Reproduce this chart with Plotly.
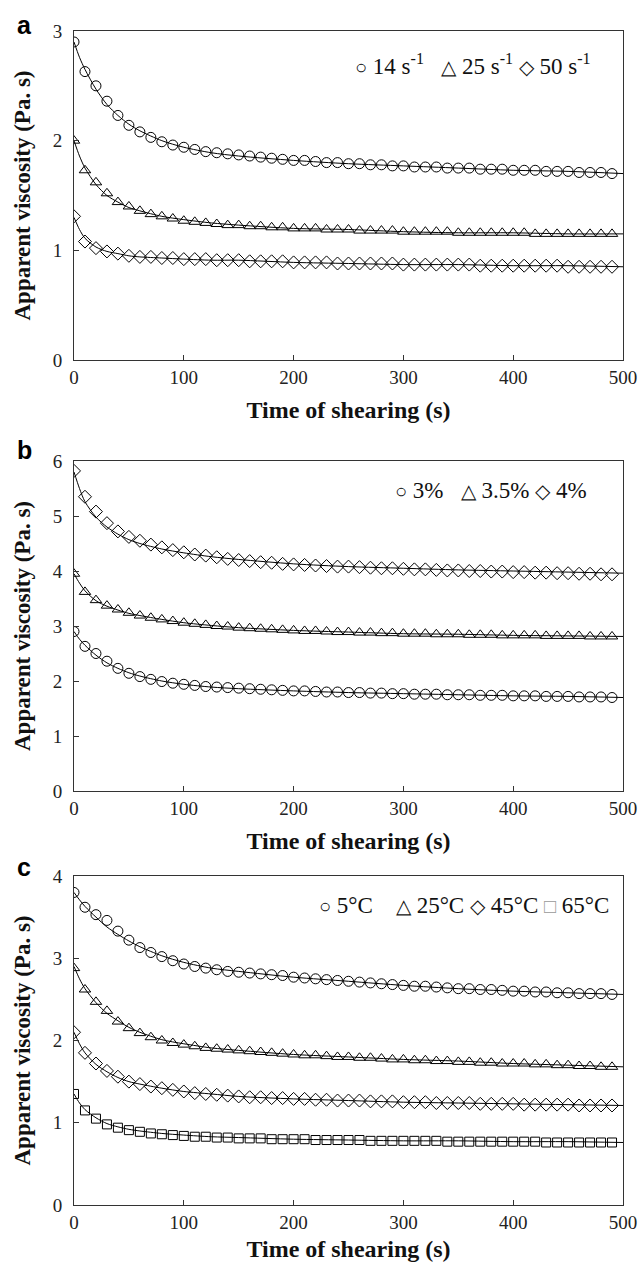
import plotly.graph_objects as go

# ---------------- data ----------------
T_MARK = [0, 10, 20, 30, 40, 50, 60, 70, 80, 90,
          100, 110, 120, 130, 140, 150, 160, 170, 180, 190,
          200, 210, 220, 230, 240, 250, 260, 270, 280, 290,
          300, 310, 320, 330, 340, 350, 360, 370, 380, 390,
          400, 410, 420, 430, 440, 450, 460, 470, 480, 490]
T_FIT = [0, 5, 10, 20, 30, 40, 50, 60, 80, 100, 125, 150, 200, 250, 300, 350, 400, 450, 500]

# panel a: shear rates
A_14 = [2.90, 2.63, 2.50, 2.36, 2.23, 2.14, 2.08, 2.03, 1.99, 1.96,
        1.94, 1.92, 1.90, 1.89, 1.88, 1.87, 1.86, 1.85, 1.84, 1.83,
        1.82, 1.82, 1.81, 1.80, 1.80, 1.79, 1.79, 1.78, 1.78, 1.77,
        1.77, 1.76, 1.76, 1.76, 1.75, 1.75, 1.75, 1.74, 1.74, 1.74,
        1.73, 1.73, 1.73, 1.72, 1.72, 1.72, 1.71, 1.71, 1.71, 1.70]
A_14_FIT = [2.90, 2.76, 2.65, 2.47, 2.33, 2.23, 2.15, 2.09, 2.00, 1.94, 1.89, 1.86, 1.82, 1.79, 1.77, 1.75, 1.73, 1.72, 1.70]
A_25 = [2.00, 1.73, 1.62, 1.52, 1.44, 1.40, 1.36, 1.33, 1.31, 1.29,
        1.27, 1.26, 1.25, 1.24, 1.23, 1.23, 1.22, 1.22, 1.21, 1.21,
        1.20, 1.20, 1.20, 1.19, 1.19, 1.19, 1.18, 1.18, 1.18, 1.18,
        1.17, 1.17, 1.17, 1.17, 1.17, 1.16, 1.16, 1.16, 1.16, 1.16,
        1.16, 1.16, 1.15, 1.15, 1.15, 1.15, 1.15, 1.15, 1.15, 1.15]
A_25_FIT = [2.00, 1.86, 1.75, 1.60, 1.50, 1.44, 1.39, 1.36, 1.31, 1.28, 1.25, 1.23, 1.20, 1.19, 1.17, 1.16, 1.16, 1.15, 1.15]
A_50 = [1.31, 1.08, 1.02, 0.99, 0.97, 0.95, 0.94, 0.94, 0.93, 0.93,
        0.92, 0.92, 0.92, 0.91, 0.91, 0.91, 0.90, 0.90, 0.90, 0.90,
        0.89, 0.89, 0.89, 0.89, 0.88, 0.88, 0.88, 0.88, 0.88, 0.88,
        0.87, 0.87, 0.87, 0.87, 0.87, 0.87, 0.87, 0.86, 0.86, 0.86,
        0.86, 0.86, 0.86, 0.86, 0.86, 0.85, 0.85, 0.85, 0.85, 0.85]
A_50_FIT = [1.30, 1.19, 1.11, 1.03, 0.99, 0.97, 0.95, 0.94, 0.93, 0.92, 0.91, 0.91, 0.89, 0.88, 0.87, 0.87, 0.86, 0.86, 0.85]

# panel b: concentrations
B_3 = [2.90, 2.63, 2.50, 2.36, 2.23, 2.14, 2.08, 2.03, 1.99, 1.96,
       1.94, 1.92, 1.90, 1.89, 1.88, 1.87, 1.86, 1.85, 1.84, 1.83,
       1.82, 1.82, 1.81, 1.80, 1.80, 1.79, 1.79, 1.78, 1.78, 1.77,
       1.77, 1.76, 1.76, 1.76, 1.75, 1.75, 1.75, 1.74, 1.74, 1.74,
       1.73, 1.73, 1.73, 1.72, 1.72, 1.72, 1.71, 1.71, 1.71, 1.70]
B_3_FIT = [2.90, 2.76, 2.65, 2.47, 2.33, 2.23, 2.15, 2.09, 2.00, 1.94, 1.89, 1.86, 1.82, 1.79, 1.77, 1.75, 1.73, 1.72, 1.70]
B_35 = [3.95, 3.62, 3.47, 3.37, 3.30, 3.24, 3.19, 3.15, 3.12, 3.09,
        3.06, 3.04, 3.02, 3.00, 2.99, 2.97, 2.96, 2.95, 2.94, 2.93,
        2.92, 2.91, 2.91, 2.90, 2.89, 2.89, 2.88, 2.88, 2.87, 2.87,
        2.86, 2.86, 2.86, 2.85, 2.85, 2.85, 2.84, 2.84, 2.84, 2.83,
        2.83, 2.83, 2.83, 2.82, 2.82, 2.82, 2.82, 2.81, 2.81, 2.81]
B_35_FIT = [3.95, 3.78, 3.64, 3.46, 3.36, 3.29, 3.23, 3.19, 3.12, 3.06, 3.01, 2.97, 2.92, 2.89, 2.86, 2.85, 2.83, 2.82, 2.81]
B_4 = [5.82, 5.35, 5.08, 4.87, 4.72, 4.62, 4.55, 4.48, 4.43, 4.38,
       4.34, 4.30, 4.28, 4.25, 4.22, 4.20, 4.18, 4.16, 4.15, 4.13,
       4.12, 4.11, 4.10, 4.09, 4.08, 4.08, 4.07, 4.06, 4.05, 4.05,
       4.04, 4.03, 4.03, 4.02, 4.01, 4.01, 4.00, 4.00, 3.99, 3.99,
       3.98, 3.98, 3.97, 3.97, 3.96, 3.96, 3.95, 3.95, 3.94, 3.94]
B_4_FIT = [5.80, 5.50, 5.26, 4.98, 4.80, 4.67, 4.57, 4.50, 4.40, 4.33, 4.26, 4.21, 4.13, 4.08, 4.05, 4.02, 4.00, 3.98, 3.96]

# panel c: temperatures
C_5 = [3.80, 3.62, 3.53, 3.46, 3.33, 3.22, 3.13, 3.07, 3.02, 2.97,
       2.93, 2.90, 2.88, 2.86, 2.84, 2.83, 2.82, 2.81, 2.80, 2.79,
       2.77, 2.76, 2.75, 2.74, 2.73, 2.72, 2.71, 2.70, 2.69, 2.68,
       2.67, 2.66, 2.66, 2.65, 2.64, 2.63, 2.63, 2.62, 2.62, 2.61,
       2.60, 2.60, 2.59, 2.59, 2.58, 2.58, 2.57, 2.57, 2.57, 2.56]
C_5_FIT = [3.80, 3.71, 3.63, 3.50, 3.38, 3.29, 3.21, 3.14, 3.03, 2.95, 2.88, 2.84, 2.77, 2.72, 2.67, 2.63, 2.60, 2.58, 2.56]
C_25 = [2.88, 2.62, 2.47, 2.36, 2.23, 2.15, 2.09, 2.04, 2.00, 1.97,
        1.95, 1.93, 1.91, 1.90, 1.89, 1.88, 1.87, 1.86, 1.85, 1.84,
        1.83, 1.82, 1.82, 1.81, 1.80, 1.80, 1.79, 1.79, 1.78, 1.77,
        1.77, 1.76, 1.76, 1.75, 1.75, 1.74, 1.74, 1.73, 1.73, 1.72,
        1.72, 1.72, 1.71, 1.71, 1.70, 1.70, 1.69, 1.69, 1.68, 1.68]
C_25_FIT = [2.90, 2.75, 2.63, 2.46, 2.33, 2.24, 2.16, 2.10, 2.01, 1.96, 1.91, 1.88, 1.83, 1.80, 1.77, 1.75, 1.72, 1.70, 1.68]
C_45 = [2.10, 1.85, 1.72, 1.63, 1.56, 1.50, 1.47, 1.44, 1.42, 1.40,
        1.38, 1.36, 1.35, 1.34, 1.33, 1.32, 1.31, 1.31, 1.30, 1.30,
        1.29, 1.29, 1.28, 1.28, 1.27, 1.27, 1.27, 1.26, 1.26, 1.26,
        1.25, 1.25, 1.25, 1.24, 1.24, 1.24, 1.24, 1.23, 1.23, 1.23,
        1.23, 1.22, 1.22, 1.22, 1.22, 1.22, 1.21, 1.21, 1.21, 1.21]
C_45_FIT = [2.10, 1.96, 1.85, 1.71, 1.62, 1.55, 1.50, 1.47, 1.42, 1.38, 1.35, 1.32, 1.29, 1.27, 1.25, 1.24, 1.23, 1.22, 1.21]
C_65 = [1.35, 1.15, 1.05, 0.98, 0.94, 0.91, 0.89, 0.87, 0.86, 0.85,
        0.84, 0.83, 0.83, 0.82, 0.82, 0.81, 0.81, 0.81, 0.80, 0.80,
        0.80, 0.80, 0.79, 0.79, 0.79, 0.79, 0.79, 0.78, 0.78, 0.78,
        0.78, 0.78, 0.78, 0.78, 0.77, 0.77, 0.77, 0.77, 0.77, 0.77,
        0.77, 0.77, 0.77, 0.76, 0.76, 0.76, 0.76, 0.76, 0.76, 0.76]
C_65_FIT = [1.35, 1.24, 1.16, 1.06, 0.99, 0.95, 0.92, 0.90, 0.87, 0.85, 0.83, 0.82, 0.80, 0.79, 0.78, 0.78, 0.77, 0.77, 0.76]

X_TICKS = [0, 100, 200, 300, 400, 500]


def sym(ch, extra=""):
    return "<span style='font-size:20px;" + extra + "'>" + ch + "</span>"


PANELS = [
    dict(letter="a", ymax=3, yticks=[0, 1, 2, 3],
         series=[("14 s⁻¹", "circle-open", A_14, A_14_FIT),
                 ("25 s⁻¹", "triangle-up-open", A_25, A_25_FIT),
                 ("50 s⁻¹", "diamond-open", A_50, A_50_FIT)],
         legend=sym("○") + " 14 s<sup>-1</sup>   " + sym("△") + " 25 s<sup>-1</sup> "
                + sym("◇") + " 50 s<sup>-1</sup>"),
    dict(letter="b", ymax=6, yticks=[0, 1, 2, 3, 4, 5, 6],
         series=[("3%", "circle-open", B_3, B_3_FIT),
                 ("3.5%", "triangle-up-open", B_35, B_35_FIT),
                 ("4%", "diamond-open", B_4, B_4_FIT)],
         legend=sym("○") + " 3%   " + sym("△") + " 3.5% " + sym("◇") + " 4%"),
    dict(letter="c", ymax=4, yticks=[0, 1, 2, 3, 4],
         series=[("5°C", "circle-open", C_5, C_5_FIT),
                 ("25°C", "triangle-up-open", C_25, C_25_FIT),
                 ("45°C", "diamond-open", C_45, C_45_FIT),
                 ("65°C", "square-open", C_65, C_65_FIT)],
         legend=sym("○") + " 5°C    " + sym("△") + " 25°C " + sym("◇") + " 45°C "
                + sym("□", "color:#999") + " 65°C"),
]

# ---------------- layout geometry (pixels) ----------------
W, H = 640, 1262
X_LEFT, X_RIGHT = 74, 623
PANEL_PX = [(31, 360), (461, 791), (876, 1205)]
LEGEND_Y = [65, 490, 905]
LEGEND_XR = [593, 589, 611]
LETTER_Y = [25, 450, 867]

SERIF = "Liberation Serif, Times New Roman, serif"
SANS = "Liberation Sans, Arial, sans-serif"

fig = go.Figure()
layout = dict(width=W, height=H, margin=dict(l=0, r=0, t=0, b=0, autoexpand=False),
              paper_bgcolor="white", plot_bgcolor="white", showlegend=False,
              annotations=[])

for i, p in enumerate(PANELS):
    n = "" if i == 0 else str(i + 1)
    xa, ya = "x" + n, "y" + n
    for name, symb, ys, fit in p["series"]:
        fig.add_trace(go.Scatter(x=T_FIT, y=fit, xaxis=xa, yaxis=ya, mode="lines",
                                 line=dict(color="black", width=1, shape="spline", smoothing=0.8),
                                 hoverinfo="skip", name=name + " fit"))
        size = 9 if symb == "square-open" else 10
        fig.add_trace(go.Scatter(x=T_MARK, y=ys, xaxis=xa, yaxis=ya, mode="markers", name=name,
                                 marker=dict(symbol=symb, size=size, color="black",
                                             line=dict(width=1, color="black"))))
    top, bot = PANEL_PX[i]
    dom_y = [1 - bot / H, 1 - top / H]
    axis_common = dict(showline=True, linecolor="#333", linewidth=1, mirror=True,
                       ticks="inside", ticklen=5, tickcolor="#333", showgrid=False,
                       zeroline=False, automargin=False,
                       tickfont=dict(family=SERIF, size=19, color="#222"))
    layout["xaxis" + n] = dict(axis_common, domain=[X_LEFT / W, X_RIGHT / W], range=[0, 500],
                               tickvals=X_TICKS, anchor=ya, ticklabelstandoff=0,
                               title=dict(text="<b>Time of shearing (s)</b>", standoff=14,
                                          font=dict(family=SERIF, size=24, color="#111")))
    layout["yaxis" + n] = dict(axis_common, domain=dom_y, range=[0, p["ymax"]],
                               tickvals=p["yticks"], anchor=xa, ticklabelstandoff=7,
                               title=dict(text="<b>Apparent viscosity (Pa. s)</b>", standoff=15,
                                          font=dict(family=SERIF, size=23, color="#111")))
    layout["annotations"].append(dict(text="<b>" + p["letter"] + "</b>", xref="paper", yref="paper",
                                      x=24 / W, y=1 - LETTER_Y[i] / H, xanchor="center", yanchor="middle",
                                      showarrow=False, font=dict(family=SANS, size=25, color="black")))
    layout["annotations"].append(dict(text=p["legend"], xref="paper", yref="paper",
                                      x=LEGEND_XR[i] / W, y=1 - LEGEND_Y[i] / H, xanchor="right",
                                      yanchor="middle", showarrow=False,
                                      font=dict(family=SERIF, size=23, color="#111")))

fig.update_layout(**layout)
fig.write_html("out.html", config={"displayModeBar": False},
               post_script="document.body.style.margin='0';document.body.style.overflow='hidden';")
